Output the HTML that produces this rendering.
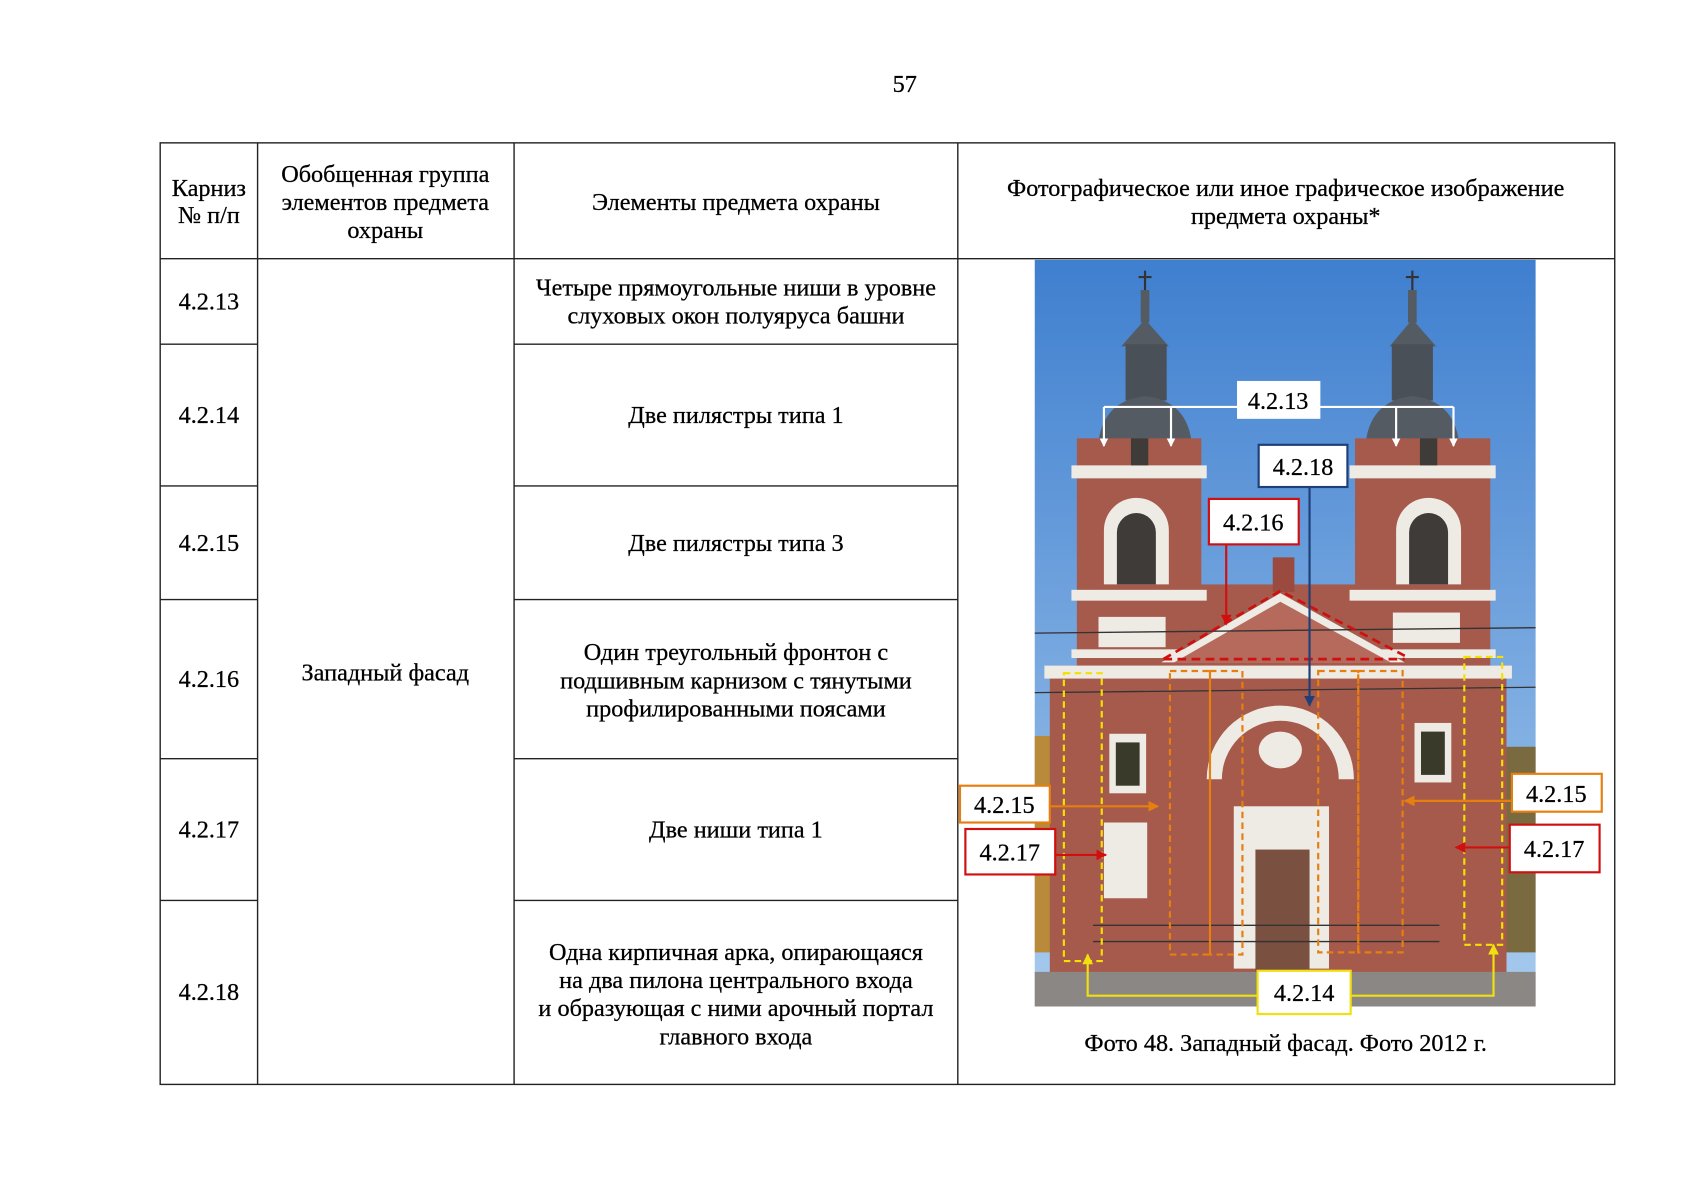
<!DOCTYPE html>
<html><head><meta charset="utf-8"><style>
html,body{margin:0;padding:0;background:#fff;}
svg{display:block;}
text{font-family:"Liberation Serif","DejaVu Serif",serif;font-size:22.4px;fill:#000;stroke:#000;stroke-width:0.25px;}
</style></head><body>
<svg width="1697" height="1200" viewBox="0 0 1568 1108.8" xmlns="http://www.w3.org/2000/svg">
<defs>
<linearGradient id="sky" x1="0" y1="0" x2="0" y2="1"><stop offset="0" stop-color="#3f7fcf"/><stop offset="1" stop-color="#a8cbee"/></linearGradient>
<marker id="aw" markerWidth="8" markerHeight="8" refX="7" refY="4" orient="auto" markerUnits="userSpaceOnUse"><path d="M0,0 L8,4 L0,8z" fill="#fff"/></marker>
<marker id="ab" markerWidth="10" markerHeight="10" refX="9" refY="5" orient="auto" markerUnits="userSpaceOnUse"><path d="M0,0 L10,5 L0,10z" fill="#1f3f78"/></marker>
<marker id="ar" markerWidth="10" markerHeight="10" refX="9" refY="5" orient="auto" markerUnits="userSpaceOnUse"><path d="M0,0 L10,5 L0,10z" fill="#d01010"/></marker>
<marker id="ao" markerWidth="10" markerHeight="10" refX="9" refY="5" orient="auto" markerUnits="userSpaceOnUse"><path d="M0,0 L10,5 L0,10z" fill="#e67e10"/></marker>
<marker id="ay" markerWidth="10" markerHeight="10" refX="9" refY="5" orient="auto" markerUnits="userSpaceOnUse"><path d="M0,0 L10,5 L0,10z" fill="#f0e010"/></marker>
</defs>
<text x="836" y="85" text-anchor="middle">57</text>
<g stroke="#222" stroke-width="1.3" fill="none">
<rect x="148" y="132" width="1344" height="870"/>
<line x1="238" y1="132" x2="238" y2="1002"/>
<line x1="475" y1="132" x2="475" y2="1002"/>
<line x1="885" y1="132" x2="885" y2="1002"/>
<line x1="148" y1="239" x2="1492" y2="239"/>
<line x1="148" y1="318" x2="238" y2="318"/><line x1="475" y1="318" x2="885" y2="318"/>
<line x1="148" y1="449" x2="238" y2="449"/><line x1="475" y1="449" x2="885" y2="449"/>
<line x1="148" y1="554" x2="238" y2="554"/><line x1="475" y1="554" x2="885" y2="554"/>
<line x1="148" y1="701" x2="238" y2="701"/><line x1="475" y1="701" x2="885" y2="701"/>
<line x1="148" y1="832" x2="238" y2="832"/><line x1="475" y1="832" x2="885" y2="832"/>
</g>
<g text-anchor="middle">
<text x="193" y="181">Карниз</text><text x="193" y="206">№ п/п</text>
<text x="356" y="168">Обобщенная группа</text><text x="356" y="194">элементов предмета</text><text x="356" y="220">охраны</text>
<text x="680" y="194">Элементы предмета охраны</text>
<text x="1188" y="181">Фотографическое или иное графическое изображение</text><text x="1188" y="207">предмета охраны*</text>
<text x="193" y="286">4.2.13</text><text x="193" y="391">4.2.14</text><text x="193" y="509">4.2.15</text>
<text x="193" y="635">4.2.16</text><text x="193" y="774">4.2.17</text><text x="193" y="924">4.2.18</text>
<text x="356" y="629">Западный фасад</text>
<text x="680" y="273">Четыре прямоугольные ниши в уровне</text><text x="680" y="299">слуховых окон полуяруса башни</text>
<text x="680" y="391">Две пилястры типа 1</text>
<text x="680" y="610">Один треугольный фронтон с</text><text x="680" y="636">подшивным карнизом с тянутыми</text><text x="680" y="662">профилированными поясами</text>
<text x="680" y="509">Две пилястры типа 3</text>
<text x="680" y="774">Две ниши типа 1</text>
<text x="680" y="887">Одна кирпичная арка, опирающаяся</text><text x="680" y="913">на два пилона центрального входа</text><text x="680" y="939">и образующая с ними арочный портал</text><text x="680" y="965">главного входа</text>
<text x="1188" y="971">Фото 48. Западный фасад. Фото 2012 г.</text>
</g>
<svg x="956" y="240" width="463" height="690" viewBox="956 240 463 690">
<rect x="956" y="240" width="463" height="690" fill="url(#sky)"/>
<rect x="956" y="680" width="30" height="200" fill="#b88a3a"/>
<rect x="1392" y="690" width="27" height="190" fill="#7a6a40"/>
<g fill="#555b63">
<path d="M1058,250v20M1052,256h12M1305,250v20M1299,256h12" stroke="#333" stroke-width="2"/>
<rect x="1054" y="268" width="8" height="30"/><rect x="1301" y="268" width="8" height="30"/>
<path d="M1036,320 L1058,295 L1080,320z"/><path d="M1284,320 L1305,295 L1327,320z"/>
<rect x="1040" y="318" width="38" height="52" fill="#4a5058"/><rect x="1286" y="318" width="38" height="52" fill="#4a5058"/>
<path d="M1015,408 Q1020,370 1058,366 Q1096,370 1101,408z"/><path d="M1262,408 Q1267,370 1305,366 Q1343,370 1348,408z"/>
</g>
<g fill="#a55a4c">
<rect x="995" y="405" width="115" height="210"/><rect x="1252" y="405" width="125" height="210"/>
<rect x="1100" y="540" width="160" height="80"/>
<rect x="970" y="615" width="422" height="295"/>
</g>
<g fill="#eeeae4">
<rect x="990" y="430" width="125" height="12"/><rect x="1247" y="430" width="135" height="12"/>
<rect x="990" y="545" width="125" height="10"/><rect x="1247" y="545" width="135" height="10"/>
<rect x="990" y="600" width="125" height="8"/><rect x="1247" y="600" width="135" height="8"/>
<rect x="965" y="615" width="432" height="12"/>
<path d="M1020,540 v-50 a30,30 0 0 1 60,0 v50z"/><path d="M1290,540 v-50 a30,30 0 0 1 60,0 v50z"/>
<path d="M1073,612 L1183,548 L1298,612z"/>
<path d="M1115,720 a68,68 0 0 1 136,0 h-14 a54,54 0 0 0 -108,0z"/>
<rect x="1140" y="745" width="88" height="150"/>
<rect x="1025" y="678" width="34" height="55"/><rect x="1307" y="668" width="34" height="55"/>
<rect x="1020" y="760" width="40" height="70"/>
<rect x="1015" y="570" width="62" height="28"/><rect x="1287" y="566" width="62" height="28"/>
<ellipse cx="1183" cy="693" rx="20" ry="17"/>
</g>
<g fill="#3e3b38">
<path d="M1032,540 v-48 a18,18 0 0 1 36,0 v48z"/><path d="M1302,540 v-48 a18,18 0 0 1 36,0 v48z"/>
<rect x="1045" y="405" width="16" height="25"/><rect x="1312" y="405" width="16" height="25"/>
</g>
<path d="M1085,612 L1183,556 L1285,612z" fill="#b56a5c"/>
<rect x="1160" y="785" width="50" height="115" fill="#7a5040"/>
<rect x="1031" y="686" width="22" height="40" fill="#3a3a2a"/><rect x="1313" y="676" width="22" height="40" fill="#3a3a2a"/>
<rect x="1176" y="515" width="20" height="32" fill="#9a4a3e"/>
<rect x="956" y="898" width="463" height="32" fill="#8b8784"/>
<g stroke="#333" stroke-width="1.2">
<line x1="1010" y1="855" x2="1330" y2="855"/><line x1="1010" y1="870" x2="1330" y2="870"/>
<line x1="956" y1="585" x2="1419" y2="580"/><line x1="956" y1="640" x2="1419" y2="635"/>
</g>
<path d="M1075,609 L1183,546 L1298,606 M1075,609 H1298" fill="none" stroke="#d01010" stroke-width="2.5" stroke-dasharray="8,5"/>
<g fill="none" stroke="#e67e10" stroke-width="2" stroke-dasharray="6,4">
<rect x="1081" y="620" width="37" height="262"/><rect x="1118" y="620" width="30" height="262"/>
<rect x="1255" y="620" width="41" height="260"/><rect x="1218" y="620" width="37" height="260"/>
</g>
<g fill="none" stroke="#f5e000" stroke-width="2" stroke-dasharray="6,4">
<rect x="983" y="622" width="35" height="266"/><rect x="1353" y="607" width="35" height="266"/>
</g>
</svg>
<g fill="none" stroke-width="2">
<path d="M1020,376 H1343" stroke="#fff"/>
<line x1="1020" y1="376" x2="1020" y2="412" stroke="#fff" marker-end="url(#aw)"/>
<line x1="1082" y1="376" x2="1082" y2="412" stroke="#fff" marker-end="url(#aw)"/>
<line x1="1290" y1="376" x2="1290" y2="412" stroke="#fff" marker-end="url(#aw)"/>
<line x1="1343" y1="376" x2="1343" y2="412" stroke="#fff" marker-end="url(#aw)"/>
<line x1="1210" y1="450" x2="1210" y2="652" stroke="#1f3f78" marker-end="url(#ab)"/>
<line x1="1133" y1="503" x2="1133" y2="577" stroke="#d01010" marker-end="url(#ar)"/>
<line x1="970" y1="745" x2="1070" y2="745" stroke="#e67e10" marker-end="url(#ao)"/>
<line x1="975" y1="790" x2="1022" y2="790" stroke="#d01010" marker-end="url(#ar)"/>
<line x1="1397" y1="740" x2="1298" y2="740" stroke="#e67e10" marker-end="url(#ao)"/>
<line x1="1395" y1="783" x2="1345" y2="783" stroke="#d01010" marker-end="url(#ar)"/>
<path d="M1162,920 H1005 V882" stroke="#f0e010" marker-end="url(#ay)"/>
<path d="M1248,920 H1380 V873" stroke="#f0e010" marker-end="url(#ay)"/>
</g>
<g fill="#fff" stroke-width="2">
<rect x="1144" y="353" width="75" height="33" stroke="#fff"/>
<rect x="1163" y="411" width="82" height="39" stroke="#1f3f78"/>
<rect x="1117" y="461" width="83" height="42" stroke="#d01010"/>
<rect x="887" y="726" width="83" height="34" stroke="#e67e10"/>
<rect x="892" y="766" width="83" height="42" stroke="#d01010"/>
<rect x="1397" y="715" width="83" height="35" stroke="#e67e10"/>
<rect x="1395" y="762" width="83" height="44" stroke="#d01010"/>
<rect x="1162" y="897" width="86" height="40" stroke="#f0e010"/>
</g>
<g text-anchor="middle">
<text x="1181" y="378">4.2.13</text><text x="1204" y="439">4.2.18</text><text x="1158" y="490">4.2.16</text>
<text x="928" y="751">4.2.15</text><text x="933" y="795">4.2.17</text>
<text x="1438" y="741">4.2.15</text><text x="1436" y="792">4.2.17</text>
<text x="1205" y="925">4.2.14</text>
</g>
</svg>
</body></html>
